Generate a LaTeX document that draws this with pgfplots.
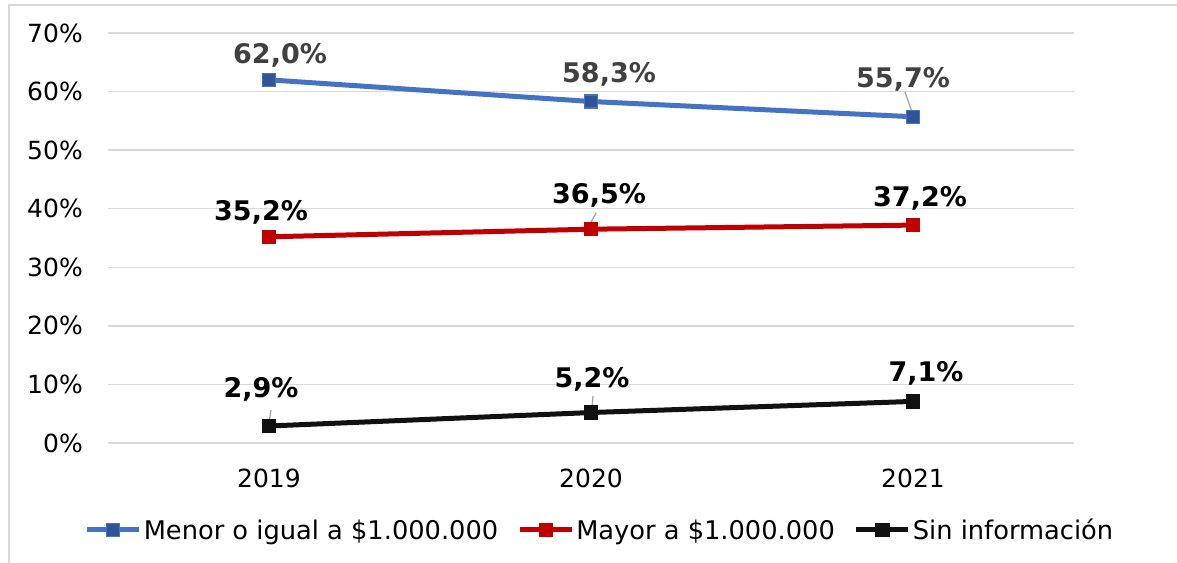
\documentclass[border=0pt]{standalone}
\usepackage{pgfplots}
\pgfplotsset{compat=1.18}
\usepackage{fontspec}
\setmainfont{DejaVu Sans}
\definecolor{cblue}{HTML}{4472C4}
\definecolor{cbluedark}{HTML}{2F5597}
\definecolor{cred}{HTML}{C00000}
\definecolor{ctext}{HTML}{404040}
\definecolor{cgrid}{HTML}{D9D9D9}
\definecolor{cblack}{HTML}{111111}
\definecolor{clead}{HTML}{A6A6A6}

\pgfplotstableread{
x y lab dx dy
0 62.0 62,0 11 24
1 58.3 58,3 18 27
2 55.7 55,7 -10 37
}\menor
\pgfplotstableread{
x y lab dx dy
0 35.2 35,2 -8 24
1 36.5 36,5 8 34
2 37.2 37,2 7 27
}\mayor
\pgfplotstableread{
x y lab dx dy
0 2.9 2,9 -8 37
1 5.2 5,2 1 33
2 7.1 7,1 13 28
}\sininfo

\begin{document}
\begin{tikzpicture}[x=1bp,y=1bp]
\useasboundingbox (0,0) rectangle (1177,563);
\draw[cgrid, line width=2bp] (9,0) -- (9,558) -- (1177,558);
\begin{axis}[
  at={(108bp,120bp)}, anchor=south west,
  width=966bp, height=410bp, scale only axis,
  xmin=-0.5, xmax=2.5, ymin=0, ymax=70,
  clip=false,
  axis line style={draw=none},
  major tick style={draw=none},
  ymajorgrids, grid style={cgrid, line width=1.5bp},
  ytick={0,10,...,70},
  yticklabel={\pgfmathprintnumber{\tick}\%},
  xtick={0,1,2}, xticklabels={2019,2020,2021},
  /pgf/number format/assume math mode=true,
  tick label style={font=\fontsize{25bp}{30bp}\selectfont, text=black},
  yticklabel style={anchor=east, inner sep=0pt, xshift=-25bp},
  xticklabel style={anchor=north, inner sep=0pt, yshift=-26bp},
  legend columns=3,
  legend style={at={(0.5093,-0.2122)}, anchor=center, draw=none, fill=none,
    font=\fontsize{25.7bp}{30bp}\selectfont,
    /tikz/every even column/.append style={column sep=17bp}},
  legend image code/.code={
    \draw[#1, mark repeat=2, mark phase=2] plot coordinates {(0bp,0bp) (26bp,0bp) (52bp,0bp)};
  },
  point meta=explicit symbolic,
  visualization depends on={\thisrow{dx}\as\dx},
  visualization depends on={\thisrow{dy}\as\dy},
  nodes near coords={\pgfplotspointmeta\%},
  every node near coord/.append style={anchor=center, xshift=\dx bp, yshift=\dy bp,
    font=\bfseries\fontsize{27bp}{32bp}\selectfont, inner sep=0pt},
]
\draw[clead, line width=1.3bp] (axis cs:1.975,59.93) -- (axis cs:1.997,56.51);
\draw[clead, line width=1.3bp] (axis cs:1.0156,39.27) -- (axis cs:0.9938,37.05);
\draw[clead, line width=1.3bp] (axis cs:0.0062,5.63) -- (axis cs:0.0,3.41);
\draw[clead, line width=1.3bp] (axis cs:1.0062,8.02) -- (axis cs:1.003,5.8);

\addplot[cblue, line width=5bp, mark=square*,
  mark options={solid, fill=cbluedark, draw=cblue, line width=1.2bp, mark size=6.5bp},
  nodes near coords style={text=ctext}]
  table[x=x, y=y, meta=lab] {\menor};
\addlegendentry{Menor o igual a \$1.000.000}
\addplot[cred, line width=5bp, mark=square*,
  mark options={solid, fill=cred, draw=cred, line width=1.2bp, mark size=6.5bp},
  nodes near coords style={text=black}]
  table[x=x, y=y, meta=lab] {\mayor};
\addlegendentry{Mayor a \$1.000.000}
\addplot[cblack, line width=5bp, mark=square*,
  mark options={solid, fill=cblack, draw=cblack, line width=1.2bp, mark size=6.5bp},
  nodes near coords style={text=black}]
  table[x=x, y=y, meta=lab] {\sininfo};
\addlegendentry{Sin información}
\end{axis}
\end{tikzpicture}
\end{document}
